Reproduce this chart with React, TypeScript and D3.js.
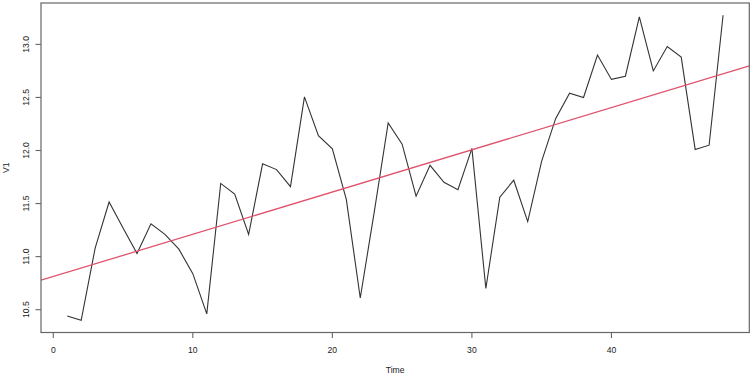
import * as d3 from 'd3'
import React from 'react'

// series V1, one value per time step 1..48
const time = d3.range(1, 49)
const v1 = [
  10.44, 10.40, 11.08, 11.515, 11.27, 11.03, 11.31, 11.21, 11.07, 10.84,
  10.46, 11.69, 11.59, 11.21, 11.875, 11.82, 11.66, 12.505, 12.14, 12.016,
  11.54, 10.61, 11.42, 12.26, 12.06, 11.57, 11.86, 11.70, 11.63, 12.02,
  10.70, 11.56, 11.72, 11.33, 11.90, 12.30, 12.54, 12.50, 12.90, 12.67,
  12.70, 13.26, 12.75, 12.98, 12.88, 12.01, 12.05, 13.275
]
const xTicks = [0, 10, 20, 30, 40]
const yTicks = [10.5, 11.0, 11.5, 12.0, 12.5, 13.0]

const W = 751
const H = 377
const box = { left: 41, top: 3, right: 749.3, bottom: 332.5 }

// R style 4% padding on the data range
const pad = (lo: number, hi: number): [number, number] => {
  const e = (hi - lo) * 0.04
  return [lo - e, hi + e]
}

const App = () => {
  const data = time.map((t, i) => ({ t, v: v1[i] }))
  const x = d3.scaleLinear()
    .domain(pad(d3.min(time)!, d3.max(time)!))
    .range([box.left, box.right])
  const y = d3.scaleLinear()
    .domain(pad(d3.min(v1)!, d3.max(v1)!))
    .range([box.bottom, box.top])

  // least squares fit, like abline(lm(V1 ~ time))
  const mt = d3.mean(time)!
  const mv = d3.mean(v1)!
  const slope = d3.sum(data, d => (d.t - mt) * (d.v - mv)) / d3.sum(data, d => (d.t - mt) ** 2)
  const intercept = mv - slope * mt
  const [x0, x1] = x.domain()

  const line = d3.line<{ t: number, v: number }>().x(d => x(d.t)).y(d => y(d.v))
  const font = { fontFamily: '"Liberation Sans", Arial, sans-serif', fontSize: 8.6, fill: '#222' }

  return (
    <svg width={W} height={H} style={{ position: 'absolute', left: 0, top: 0, background: '#fff' }}>
      <defs>
        <clipPath id='plot'>
          <rect x={box.left} y={box.top} width={box.right - box.left} height={box.bottom - box.top} />
        </clipPath>
      </defs>
      <path d={line(data)!} fill='none' stroke='#333' strokeWidth={1.1} strokeLinejoin='miter' />
      <line clipPath='url(#plot)'
        x1={x(x0)} y1={y(intercept + slope * x0)} x2={x(x1)} y2={y(intercept + slope * x1)}
        stroke='#DF536B' strokeWidth={1.3} />
      <rect x={box.left} y={box.top} width={box.right - box.left} height={box.bottom - box.top}
        fill='none' stroke='#666' strokeWidth={1.2} />
      {xTicks.map(tk => (
        <g key={tk} transform={`translate(${x(tk)},${box.bottom})`}>
          <line y2={5.5} stroke='#666' strokeWidth={1.1} />
          <text y={17.2} dy='0.35em' textAnchor='middle' style={font}>{tk}</text>
        </g>
      ))}
      {yTicks.map(tk => (
        <g key={tk} transform={`translate(${box.left},${y(tk)})`}>
          <line x2={-5.5} stroke='#666' strokeWidth={1.1} />
          <text transform='translate(-15,0) rotate(-90)' dy='0.35em' textAnchor='middle' style={font}>{tk.toFixed(1)}</text>
        </g>
      ))}
      <text x={(box.left + box.right) / 2} y={370} dy='0.35em' textAnchor='middle' style={font}>Time</text>
      <text transform={`translate(5.5,${(box.top + box.bottom) / 2}) rotate(-90)`} dy='0.35em' textAnchor='middle' style={font}>V1</text>
    </svg>
  )
}

export default App
